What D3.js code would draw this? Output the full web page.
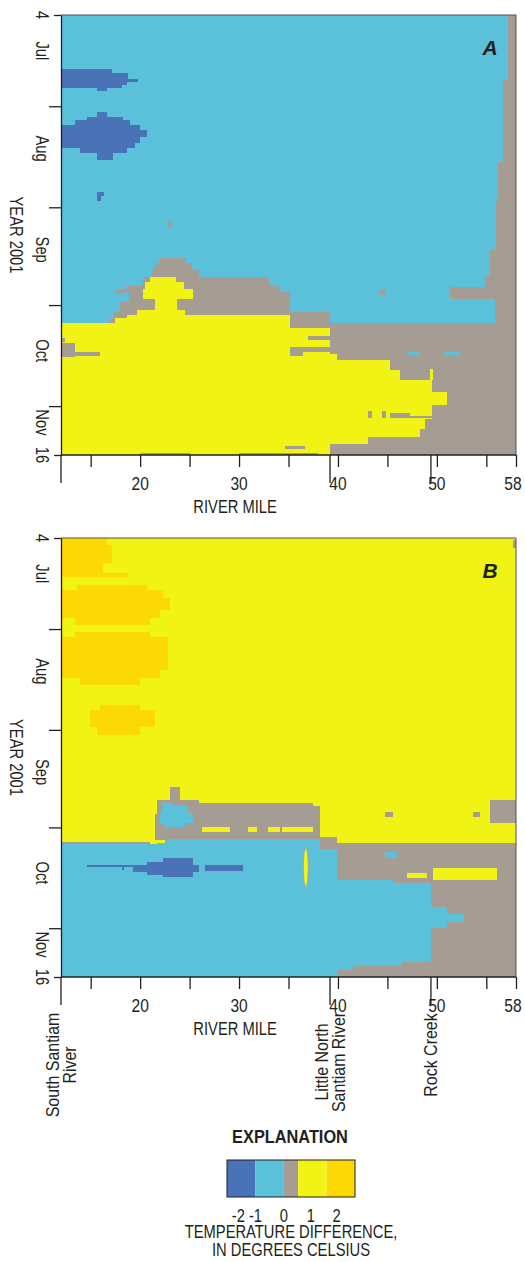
<!DOCTYPE html>
<html>
<head>
<meta charset="utf-8">
<script src="https://cdn.jsdelivr.net/npm/d3@7"></script>
<style>
  html, body { margin: 0; padding: 0; background: #fff; }
  svg { display: block; }
  text { font-family: "Liberation Sans", Arial, sans-serif; fill: #231f20; }
</style>
</head>
<body>
<svg id="chart" width="525" height="1262"></svg>
<script>
// ---- season, river reach and axis labels ----
const seasonStart = "2001-07-04";
const seasonEnd = "2001-11-16";
const riverMileDomain = [12, 58];
const mileTicks = [15, 20, 25, 30, 35, 40, 45, 50, 55, 58];
const mileTickLabels = [20, 30, 40, 50, 58];
const monthTicks = ["2001-07-04", "2001-08-01", "2001-09-01", "2001-10-01", "2001-11-01", "2001-11-16"];
const dateLabelDates = ["2001-07-04", "2001-07-15", "2001-08-14", "2001-09-14", "2001-10-15", "2001-11-06", "2001-11-16"];
const dateLabelTexts = ["4", "Jul", "Aug", "Sep", "Oct", "Nov", "16"];
const tributaryMiles = [12, 39.2, 49.4];
const tributaryNames = [["South Santiam", "River"], ["Little North", "Santiam River"], ["Rock Creek"]];
const tributaryLabelMid = [1065, 1062, 1055];

// ---- temperature-difference classes ----
const classKeys = ["D", "L", "G", "Y", "O"];            // < -1, -1..0, ~0, 0..1, 1..2 deg C
const classColors = ["#4a72b7", "#5bc0da", "#a59d94", "#f0f314", "#fcd805"];
const legendWeights = [2, 2, 1, 2, 2];
const legendLabels = ["-2", "-1", "0", "1", "2"];
const legendLabelUnits = [0.8, 2.0, 4.0, 5.9, 7.7];

// ---- gridded differences: [mileFrom, mileTo, dayFrom, dayTo, class]
// days counted from 4 July 2001; later cells are painted over earlier ones
const panelACells = [
  [12, 58, 0, 135, "L"],
  // gray margin along the upstream end
  [57.2, 58, 0, 20, "G"], [56.7, 58, 20, 45, "G"], [56.2, 58, 45, 57, "G"],
  [56.0, 58, 57, 72, "G"], [55.4, 58, 72, 80, "G"], [54.9, 58, 80, 83.5, "G"],
  [51.3, 58, 83.5, 87, "G"], [55.9, 58, 87, 94.5, "G"],
  [39.2, 58, 94.5, 135, "G"],
  [44.3, 44.8, 84.4, 86, "G"], [22.8, 23.1, 63.5, 65, "G"],
  // transition band in late September
  [22.0, 24.6, 74.6, 76, "G"], [21.5, 25.2, 76, 78, "G"], [21.2, 26.0, 78, 80.5, "G"],
  [20.3, 33.0, 80.5, 83, "G"], [18.6, 34.0, 83, 85, "G"], [17.5, 18.6, 84.4, 85.3, "G"],
  [18.9, 35.2, 85, 88, "G"], [18.0, 35.2, 88, 91, "G"], [17.4, 39.2, 91, 93, "G"],
  [17.0, 39.2, 93, 94.5, "G"],
  // warm water below the transition
  [21.0, 23.6, 80.4, 82, "Y"], [20.5, 24.4, 82, 84, "Y"], [20.3, 25.3, 84, 87, "Y"],
  [21.5, 23.7, 87, 90.5, "Y"], [19.7, 24.5, 90.5, 92, "Y"], [18.7, 35.2, 92, 93, "Y"],
  [17.5, 35.2, 93, 94.5, "Y"], [12, 39.2, 94.5, 135, "Y"],
  [35.2, 39.2, 94.5, 96, "G"], [37.0, 39.2, 98.5, 99.8, "G"], [35.2, 39.2, 102, 103.3, "G"],
  [35.2, 36.5, 103.3, 104.5, "G"],
  [39.2, 39.9, 104, 106, "Y"], [39.2, 45.3, 106, 109, "Y"], [39.2, 46.3, 109, 112, "Y"],
  [49.3, 49.6, 108.5, 112, "Y"], [39.2, 49.5, 112, 127, "Y"], [49.5, 51.0, 115.7, 119.6, "Y"],
  [39.2, 48.3, 127, 129.5, "Y"], [39.2, 43.0, 129.5, 131.5, "Y"],
  [43.0, 43.4, 121.5, 123.5, "G"], [44.5, 44.9, 121.5, 123.5, "G"], [45.3, 47.3, 122, 123.5, "G"],
  [47.3, 49.5, 123, 123.8, "G"], [48.8, 49.5, 124, 127, "G"],
  [34.6, 36.7, 132.2, 133.2, "G"], [20.0, 25.0, 134.5, 135, "G"], [30.0, 38.0, 134.5, 135, "G"],
  [12, 13.4, 100.6, 105, "G"], [13.4, 15.9, 103.4, 104.6, "G"], [12, 12.4, 99.1, 100.3, "G"],
  [47.0, 48.3, 103.4, 104.3, "L"], [50.6, 52.3, 103.4, 104.3, "L"],
  // cold pockets in July and August
  [12, 17.2, 16.6, 17.8, "D"], [12, 18.8, 17.8, 19.5, "D"], [12, 19.8, 19.5, 20.5, "D"],
  [12, 18.7, 20.5, 21.5, "D"], [12, 18.2, 21.5, 22.3, "D"], [15.6, 16.7, 22.3, 23.3, "D"],
  [15.6, 16.7, 29.8, 31.3, "D"], [14.6, 18.3, 31.3, 32.2, "D"], [13.4, 19.0, 32.2, 33.7, "D"],
  [12, 20.0, 33.7, 35.3, "D"], [12, 20.7, 35.3, 37.4, "D"], [12, 20.0, 37.4, 39.3, "D"],
  [12, 19.5, 39.3, 40.8, "D"], [13.9, 18.7, 40.8, 42.3, "D"], [15.6, 17.3, 42.3, 44.5, "D"],
  [15.6, 16.3, 54.3, 55.5, "D"], [15.6, 16.0, 55.5, 57, "D"]
];

const panelBCells = [
  [12, 58, 0, 135, "Y"],
  [57.7, 58, 0.6, 3, "G"],
  // warmest pockets, July to August
  [12, 16.7, 0, 2, "O"], [12, 17.2, 2, 7.7, "O"], [12, 16.2, 7.7, 10.8, "O"], [12, 18.8, 10.8, 12, "O"],
  [13.6, 20.7, 14.5, 16, "O"], [12, 22.3, 16, 18.5, "O"], [12, 23.0, 18.5, 22.1, "O"],
  [12, 22.0, 22.1, 24.6, "O"], [13.4, 21.0, 24.6, 26.8, "O"],
  [13.4, 21.0, 28.9, 30.4, "O"], [12, 22.8, 30.4, 40.6, "O"], [12, 22.0, 40.6, 43, "O"],
  [13.9, 20.0, 43, 45.2, "O"],
  [15.9, 20.0, 51.4, 52.9, "O"], [14.9, 21.5, 52.9, 58.1, "O"], [15.6, 20.0, 58.1, 60.6, "O"],
  // transition band
  [55.4, 58, 80.6, 87.6, "G"],
  [23.0, 24.0, 76.6, 80.6, "G"], [21.7, 26.0, 80.6, 81.5, "G"], [21.7, 37.5, 81.5, 82.5, "G"],
  [21.7, 38.2, 82.5, 85, "G"], [21.5, 38.2, 85, 93, "G"], [38.2, 39.9, 92, 95.7, "G"],
  [39.2, 58, 93.8, 135, "G"],
  [44.8, 45.6, 84.3, 85.8, "G"], [53.7, 54.4, 84.3, 85.8, "G"],
  [22.2, 23.3, 81.5, 82.5, "L"], [22.2, 24.8, 82.5, 84.5, "L"], [22.0, 25.3, 84.5, 87.5, "L"],
  [22.4, 24.5, 87.5, 88.8, "L"],
  [26.3, 29.1, 88.9, 90.4, "Y"], [30.9, 31.8, 88.9, 90.4, "Y"], [32.9, 34.1, 88.9, 90.4, "Y"],
  [34.3, 37.5, 88.9, 90.4, "Y"],
  [12, 21.0, 93.4, 94.2, "G"],
  // cool water after the transition
  [12, 21.7, 94.2, 135, "L"], [21.7, 22.5, 93.8, 135, "L"], [22.5, 38.2, 92.5, 135, "L"],
  [38.2, 39.9, 95.7, 105.2, "L"], [38.2, 39.2, 105.2, 135, "L"],
  [39.2, 45.6, 105.2, 106.2, "L"], [39.2, 49.4, 106.2, 130.4, "L"],
  [49.4, 51.0, 113.5, 115.5, "L"], [49.4, 52.7, 115.5, 118, "L"], [49.4, 51.0, 118, 120, "L"],
  [39.2, 46.5, 130.4, 131.5, "L"], [39.2, 41.5, 131.5, 133, "L"], [39.2, 40.0, 133, 135, "L"],
  [44.8, 46.0, 96.6, 98.4, "L"],
  [47.0, 49.0, 103, 104.6, "Y"], [49.6, 56.1, 101.5, 105.2, "Y"],
  // cold streak in early October
  [14.6, 19.3, 100.6, 101.3, "D"], [18.2, 18.4, 101.3, 102.2, "D"],
  [19.3, 20.7, 100.6, 102.8, "D"], [20.7, 22.3, 99.7, 103.7, "D"], [22.3, 25.3, 98.4, 104.2, "D"],
  [25.3, 26.0, 100.6, 102.8, "D"], [26.6, 30.4, 100.6, 102.4, "D"]
];
// narrow warm lens near the Little North Santiam: [centerMile, centerDay, halfMiles, halfDays, class]
const panelBLenses = [[36.75, 101.3, 0.25, 6, "Y"]];

// ---- drawing ----
const svg = d3.select("#chart");
const color = d3.scaleOrdinal().domain(classKeys).range(classColors);
const t0 = new Date(seasonStart + "T00:00:00Z");
const t1 = new Date(seasonEnd + "T00:00:00Z");
const dayToDate = d => new Date(t0.getTime() + d * 86400000);
const x = d3.scaleLinear().domain(riverMileDomain).range([61, 516]);

// condensed lettering: regular sans squeezed horizontally
function label(parent, px, py, str, o = {}) {
  const rot = o.rotate || 0;
  const sx = o.squeeze || 0.82;
  return parent.append("text")
    .attr("transform", `translate(${px},${py}) rotate(${rot}) scale(${sx},1)`)
    .attr("text-anchor", o.anchor || "middle")
    .attr("font-size", o.size || 18)
    .attr("font-weight", o.weight || null)
    .attr("font-style", o.style || null)
    .text(str);
}

const panels = [
  { letter: "A", cells: panelACells, lenses: [], top: 15, bottom: 455 },
  { letter: "B", cells: panelBCells, lenses: panelBLenses, top: 538, bottom: 977 }
];

panels.forEach(p => {
  const y = d3.scaleUtc().domain([t0, t1]).range([p.top, p.bottom]);
  const g = svg.append("g");

  g.append("g")
    .selectAll("rect")
    .data(p.cells)
    .join("rect")
    .attr("x", d => x(d[0]))
    .attr("width", d => x(d[1]) - x(d[0]))
    .attr("y", d => y(dayToDate(d[2])))
    .attr("height", d => y(dayToDate(d[3])) - y(dayToDate(d[2])))
    .attr("fill", d => color(d[4]))
    .attr("shape-rendering", "crispEdges");

  g.append("g")
    .selectAll("ellipse")
    .data(p.lenses)
    .join("ellipse")
    .attr("cx", d => x(d[0]))
    .attr("cy", d => y(dayToDate(d[1])))
    .attr("rx", d => x(riverMileDomain[0] + d[2]) - x(riverMileDomain[0]))
    .attr("ry", d => y(dayToDate(d[3])) - y(t0))
    .attr("fill", d => color(d[4]))
    .attr("stroke", color("G"))
    .attr("stroke-width", 0.8);

  // frame: thin top and right edges
  g.append("path")
    .attr("d", `M${x(12)},${p.top}H${x(58)}V${p.bottom}`)
    .attr("fill", "none")
    .attr("stroke", "#55504d")
    .attr("stroke-width", 1);

  // date axis
  const yAxis = d3.axisLeft(y)
    .tickValues(monthTicks.map(s => new Date(s + "T00:00:00Z")))
    .tickSize(12)
    .tickSizeOuter(0)
    .tickFormat("");
  const ya = g.append("g").attr("transform", `translate(${x(12)},0)`).call(yAxis);
  ya.selectAll(".tick line").attr("x2", (d, i, n) => (i === 0 || i === n.length - 1) ? -7 : -12);
  ya.selectAll("path, line").attr("stroke", "#231f20").attr("stroke-width", 1.3);

  dateLabelDates.forEach((s, i) => {
    label(g, 36, y(new Date(s + "T00:00:00Z")), dateLabelTexts[i], { rotate: 90 });
  });
  label(g, 10, (p.top + p.bottom) / 2, "YEAR 2001", { rotate: 90 });

  // river-mile axis
  const xAxis = d3.axisBottom(x)
    .tickValues(mileTicks)
    .tickSize(12)
    .tickSizeOuter(0)
    .tickFormat("");
  const xa = g.append("g").attr("transform", `translate(0,${p.bottom})`).call(xAxis);
  xa.selectAll("path, line").attr("stroke", "#231f20").attr("stroke-width", 1.3);
  xa.select(".domain").attr("d", `M${x(12)},0H${x(58)}`);

  mileTickLabels.forEach(m => {
    const px = m === riverMileDomain[1] ? x(m) - 3 : x(m);
    label(g, px, p.bottom + 35, String(m), { size: 19 });
  });

  // tributary confluence markers
  g.append("g")
    .selectAll("line")
    .data(tributaryMiles)
    .join("line")
    .attr("x1", d => x(d)).attr("x2", d => x(d))
    .attr("y1", p.bottom).attr("y2", p.bottom + 28)
    .attr("stroke", "#231f20").attr("stroke-width", 1.3);

  label(g, x(29.6), p.bottom + 58, "RIVER MILE");

  label(g, 490, p.top + 40, p.letter, { size: 21, weight: "bold", style: "italic", squeeze: 1 });

  if (p.letter === "B") {
    tributaryMiles.forEach((m, i) => {
      const lines = tributaryNames[i];
      const first = x(m) - (13 + 17 * (lines.length - 1)) / 2 + 13;
      const t = label(g, first, tributaryLabelMid[i], null, { rotate: -90, size: 19, squeeze: 0.84 });
      t.selectAll("tspan")
        .data(lines)
        .join("tspan")
        .attr("x", 0)
        .attr("dy", (d, j) => j === 0 ? 0 : 17)
        .text(d => d);
    });
  }
});

// ---- explanation ----
const legendTotal = d3.sum(legendWeights);
const lx = d3.scaleLinear().domain([0, legendTotal]).range([227, 355]);
const cum = d3.cumsum(legendWeights);
const legend = svg.append("g");
label(legend, 290, 1143, "EXPLANATION", { size: 19, weight: "bold", squeeze: 0.86 });
legend.selectAll("rect.bin")
  .data(classKeys)
  .join("rect")
  .attr("class", "bin")
  .attr("x", (d, i) => lx(cum[i] - legendWeights[i]))
  .attr("width", (d, i) => lx(cum[i]) - lx(cum[i] - legendWeights[i]))
  .attr("y", 1160).attr("height", 37)
  .attr("fill", d => color(d));
legend.append("rect")
  .attr("x", lx(0)).attr("y", 1160)
  .attr("width", lx(legendTotal) - lx(0)).attr("height", 37)
  .attr("fill", "none").attr("stroke", "#231f20").attr("stroke-width", 1);
legendLabels.forEach((s, i) => label(legend, lx(legendLabelUnits[i]), 1222, s));
label(legend, 291, 1238, "TEMPERATURE DIFFERENCE,");
label(legend, 291, 1256, "IN DEGREES CELSIUS");
</script>
</body>
</html>
